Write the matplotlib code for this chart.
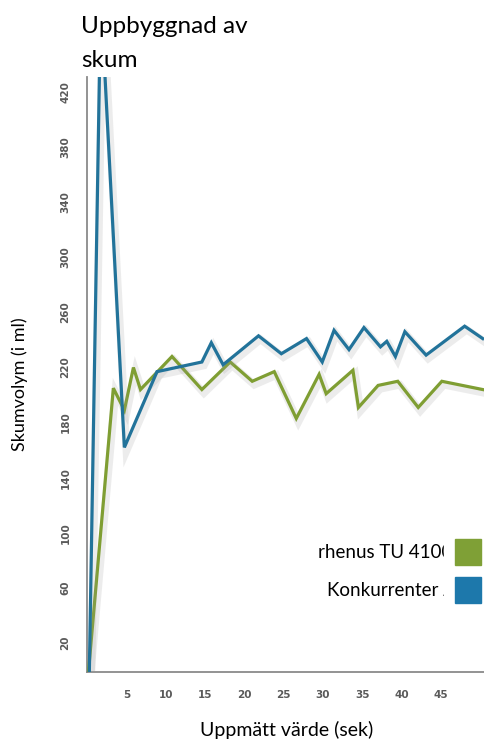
import matplotlib
matplotlib.use("Agg")
import matplotlib.pyplot as plt
import matplotlib.patheffects as pe
from matplotlib.transforms import Bbox

# ---- data ----
blue_x = [0.3, 1.75, 4.75, 8.9, 14.6, 15.8, 17.3, 21.8, 24.7, 27.9, 29.9, 31.4,
          33.3, 35.2, 37.3, 38.1, 39.2, 40.4, 43.1, 48.0, 50.3]
blue_y = [0, 490, 162, 217, 224, 238, 222, 243, 230, 241, 224, 247,
          233, 249, 235, 239, 228, 246, 229, 250, 241]

green_x = [0.2, 3.35, 4.75, 5.9, 6.8, 10.8, 14.6, 18.2, 21.0, 23.8, 26.6, 29.5,
           30.4, 33.8, 34.5, 37.0, 39.5, 42.1, 45.1, 50.3]
green_y = [0, 205, 189, 220, 204, 228, 204, 224, 210, 217, 183, 215,
           201, 218, 191, 207, 210, 191, 210, 204]

x_ticks = [5, 10, 15, 20, 25, 30, 35, 40, 45]
y_ticks = [20, 60, 100, 140, 180, 220, 260, 300, 340, 380, 420]

series_names = ["rhenus TU 4100", "Konkurrenter A"]
title_lines = ["Uppbyggnad av", "skum"]
x_label = "Uppmätt värde (sek)"
y_label = "Skumvolym (i ml)"

BLUE = "#22739a"
GREEN = "#7f9e33"
BLUE_SQ = "#1d78ab"
GREEN_SQ = "#7fa036"

plt.rcParams['font.family'] = ['Lato', 'DejaVu Sans']

W, H = 484, 742
fig = plt.figure(figsize=(W / 100, H / 100), dpi=100)
ax = fig.add_axes([87 / W, 1 - 672 / H, (484 - 87) / W, (672 - 77) / H])

shadow = [pe.SimpleLineShadow(offset=(1.5, -2.5), shadow_color='#999999', alpha=0.18,
                              linewidth=5.5), pe.Normal()]
ax.plot(green_x, green_y, color=GREEN, lw=2.3, solid_joinstyle='miter',
        path_effects=shadow, zorder=3)
ax.plot(blue_x, blue_y, color=BLUE, lw=2.3, solid_joinstyle='miter',
        path_effects=shadow, zorder=4)

ax.set_xlim(0, 50.46)
ax.set_ylim(-1.05, 430.9)

ax.set_xticks(x_ticks)
ax.set_yticks(y_ticks)
ax.tick_params(length=0, labelsize=7.5, labelcolor='#5a5a5a')
ax.tick_params(axis='x', pad=13)
ax.tick_params(axis='y', pad=12)
for lab in ax.get_xticklabels() + ax.get_yticklabels():
    lab.set_fontweight('bold')
    lab.set_fontfamily('DejaVu Sans')
for lab in ax.get_yticklabels():
    lab.set_rotation(90)
    lab.set_va('center')

for s in ['top', 'right']:
    ax.spines[s].set_visible(False)
for s in ['left', 'bottom']:
    ax.spines[s].set_color('#8a8a8a')
    ax.spines[s].set_linewidth(1.3)

fig.text(287 / W, 1 - 730 / H, x_label, fontsize=14, ha='center', va='center')
fig.text(20 / W, 1 - 384 / H, y_label, fontsize=13, ha='center', va='center',
         rotation=90)

fig.text(81 / W, 1 - 33 / H, title_lines[0], fontsize=17.5, va='baseline', ha='left')
fig.text(81 / W, 1 - 67 / H, title_lines[1], fontsize=17.5, va='baseline', ha='left')

# legend: text boxes clipped on the right, with colour squares
clip = Bbox.from_extents(0, 0, 444, H)
legend_rows = [(552, 318, GREEN_SQ), (590, 327, BLUE_SQ)]
for name, (yc, x0, col) in zip(series_names, legend_rows):
    t = fig.text(x0 / W, 1 - yc / H, name, fontsize=13.5, va='center', ha='left',
                 clip_on=True, zorder=3)
    t.set_clip_box(clip)
    fig.add_artist(plt.Rectangle((444 / W, 1 - (yc + 16) / H), 40 / W, 32 / H,
                                 transform=fig.transFigure, color='white',
                                 zorder=5))
    fig.add_artist(plt.Rectangle((455 / W, 1 - (yc + 13) / H), 26 / W, 26 / H,
                                 transform=fig.transFigure, color=col, zorder=6))

fig.savefig("out.png", dpi=100)
